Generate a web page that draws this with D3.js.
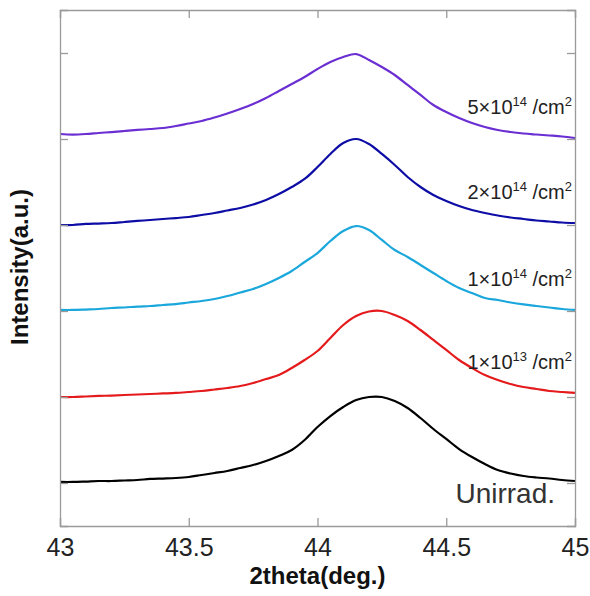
<!DOCTYPE html>
<html>
<head>
<meta charset="utf-8">
<script src="https://cdn.jsdelivr.net/npm/d3@7"></script>
<style>
  body { margin: 0; background: #fff; }
  svg text { font-family: "Liberation Sans", Arial, sans-serif; }
</style>
</head>
<body>
<div id="chart"></div>
<script>
// 2theta values (deg.), shared by every scan
const twoTheta = d3.range(41).map(i => +(43 + i * 0.05).toFixed(2));

// intensity (a.u., stacked with offsets)
const unirrad = [0.512, 0.512, 0.517, 0.523, 0.523, 0.529, 0.535, 0.547, 0.552, 0.558,
  0.570, 0.593, 0.616, 0.640, 0.674, 0.709, 0.756, 0.814, 0.884, 1.000,
  1.151, 1.279, 1.384, 1.465, 1.500, 1.500, 1.453, 1.372, 1.256, 1.128,
  1.012, 0.895, 0.802, 0.721, 0.651, 0.610, 0.581, 0.564, 0.552, 0.535, 0.523];
const dose1e13 = [1.500, 1.500, 1.506, 1.512, 1.517, 1.523, 1.529, 1.535, 1.541, 1.547,
  1.558, 1.570, 1.587, 1.605, 1.628, 1.663, 1.709, 1.756, 1.837, 1.930,
  2.035, 2.186, 2.337, 2.442, 2.494, 2.500, 2.453, 2.384, 2.279, 2.163,
  2.047, 1.930, 1.837, 1.756, 1.698, 1.651, 1.616, 1.593, 1.570, 1.558, 1.547];
const dose1e14 = [2.512, 2.512, 2.517, 2.523, 2.535, 2.541, 2.552, 2.558, 2.570, 2.581,
  2.599, 2.616, 2.640, 2.674, 2.715, 2.756, 2.814, 2.884, 2.965, 3.070,
  3.174, 3.314, 3.430, 3.488, 3.442, 3.326, 3.209, 3.128, 3.035, 2.942,
  2.849, 2.767, 2.709, 2.651, 2.628, 2.599, 2.576, 2.558, 2.541, 2.523, 2.512];
const dose2e14 = [3.500, 3.500, 3.512, 3.517, 3.523, 3.535, 3.547, 3.558, 3.570, 3.581,
  3.593, 3.616, 3.640, 3.669, 3.698, 3.738, 3.791, 3.860, 3.942, 4.035,
  4.174, 4.326, 4.453, 4.500, 4.442, 4.326, 4.198, 4.058, 3.942, 3.849,
  3.779, 3.721, 3.674, 3.640, 3.610, 3.587, 3.570, 3.552, 3.541, 3.529, 3.523];
const dose5e14 = [4.558, 4.552, 4.558, 4.570, 4.581, 4.593, 4.605, 4.616, 4.628, 4.651,
  4.680, 4.709, 4.750, 4.797, 4.849, 4.907, 4.977, 5.058, 5.140, 5.221,
  5.314, 5.395, 5.453, 5.488, 5.419, 5.337, 5.244, 5.128, 5.012, 4.895,
  4.814, 4.744, 4.686, 4.640, 4.605, 4.581, 4.564, 4.552, 4.541, 4.529, 4.512];

const xTicks = [43, 43.5, 44, 44.5, 45];
const yTicks = [0.5, 1.5, 2.5, 3.5, 4.5, 5.5];

const series = [
  {name: "Unirrad.", values: unirrad, color: "#000000", base: null, exp: null},
  {name: "1e13", values: dose1e13, color: "#e41a1c", base: "1", exp: "13"},
  {name: "1e14", values: dose1e14, color: "#1aa7dc", base: "1", exp: "14"},
  {name: "2e14", values: dose2e14, color: "#0d0da6", base: "2", exp: "14"},
  {name: "5e14", values: dose5e14, color: "#6a2ed2", base: "5", exp: "14"}
];

const W = 590, H = 596;
const margin = {top: 10, right: 15, bottom: 70, left: 60};
const width = W - margin.left - margin.right,
  height = H - margin.top - margin.bottom;

const svg = d3.select("#chart").append("svg")
  .attr("width", W)
  .attr("height", H);
const g = svg.append("g")
  .attr("transform", "translate(" + margin.left + "," + margin.top + ")");

let x = d3.scaleLinear().domain([43, 45]).range([0, width]);
let y = d3.scaleLinear().domain([0, 6]).range([height, 0]);

const axisColor = "#9a9a9a";
const tickLen = 8;

// curves
const line = d3.line()
  .x(d => x(d[0]))
  .y(d => y(d[1]))
  .curve(d3.curveCatmullRom.alpha(0.5));

series.forEach(s => {
  g.append("path")
    .datum(twoTheta.map((t, i) => [t, s.values[i]]))
    .attr("fill", "none")
    .attr("stroke", s.color)
    .attr("stroke-width", 2.2)
    .attr("stroke-linejoin", "round")
    .attr("d", line);
});

// axes: ticks point inward on all four sides
const bottomAxis = d3.axisBottom(x).tickValues(xTicks).tickSize(-tickLen).tickPadding(12)
  .tickFormat(d3.format("~g"));
const topAxis = d3.axisTop(x).tickValues(xTicks).tickSize(-tickLen).tickFormat("");
const leftAxis = d3.axisLeft(y).tickValues(yTicks).tickSize(-tickLen).tickFormat("");
const rightAxis = d3.axisRight(y).tickValues(yTicks).tickSize(-tickLen).tickFormat("");

const gx = g.append("g").attr("transform", "translate(0," + height + ")").call(bottomAxis);
const gt = g.append("g").call(topAxis);
const gl = g.append("g").call(leftAxis);
const gr = g.append("g").attr("transform", "translate(" + width + ",0)").call(rightAxis);

[gx, gt, gl, gr].forEach(a => {
  a.select(".domain").attr("stroke", axisColor).attr("stroke-width", 1.3);
  a.selectAll(".tick line").attr("stroke", axisColor).attr("stroke-width", 1.3);
});
gx.selectAll(".tick text")
  .attr("font-size", 25)
  .attr("fill", "#222")
  .attr("font-family", "Liberation Sans, Arial, sans-serif");

// axis titles
svg.append("text")
  .attr("x", margin.left + width / 2)
  .attr("y", 584)
  .attr("text-anchor", "middle")
  .attr("font-size", 24)
  .attr("font-weight", "bold")
  .attr("fill", "#111")
  .text("2theta(deg.)");

svg.append("text")
  .attr("transform", "translate(28," + (margin.top + 257) + ") rotate(-90)")
  .attr("text-anchor", "middle")
  .attr("font-size", 24)
  .attr("font-weight", "bold")
  .attr("fill", "#111")
  .text("Intensity(a.u.)");

// labels at the right end of each curve
series.forEach(s => {
  const last = s.values[s.values.length - 1];
  if (s.base === null) {
    g.append("text")
      .attr("x", x(45) - 20)
      .attr("y", y(last) + 22)
      .attr("text-anchor", "end")
      .attr("font-family", "Noto Sans, sans-serif")
      .attr("font-size", 28)
      .attr("fill", "#333")
      .text(s.name);
    return;
  }
  const t = g.append("text")
    .attr("x", x(45) - 3)
    .attr("y", y(last) - 24)
    .attr("text-anchor", "end")
    .attr("font-size", 20)
    .attr("fill", "#222");
  t.append("tspan").text(s.base + "\u00d710");
  t.append("tspan").attr("font-size", 13).attr("dy", -8).text(s.exp);
  t.append("tspan").attr("dy", 8).text(" /cm");
  t.append("tspan").attr("font-size", 13).attr("dy", -8).text("2");
});
</script>
</body>
</html>
